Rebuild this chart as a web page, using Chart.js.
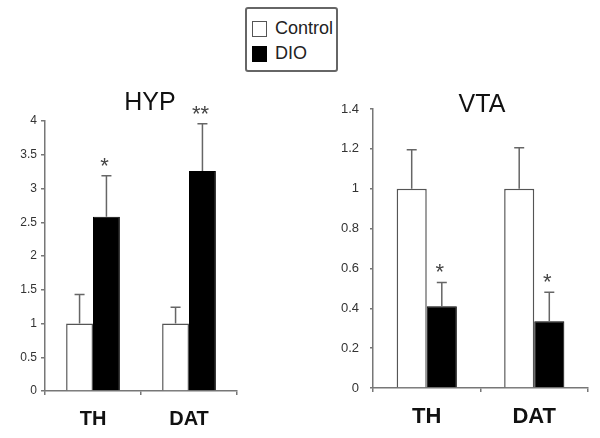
<!DOCTYPE html>
<html>
<head>
<meta charset="utf-8">
<script src="https://cdn.jsdelivr.net/npm/chart.js@4.4.0/dist/chart.umd.min.js"></script>
<style>
  body { margin: 0; background: #fff; width: 600px; height: 438px; position: relative; overflow: hidden;
         font-family: "Liberation Sans", Arial, sans-serif; }
  canvas { position: absolute; top: 0; }
  #hyp { left: 0; }
  #vta { left: 300px; }
  #legend { position: absolute; left: 245px; top: 7px; width: 89px; height: 61px;
            border: 2px solid #666; border-radius: 3px; background: #fff; }
  #legend .item { position: absolute; left: 5px; height: 16px; line-height: 16px; font-size: 18px; color: #222; }
  #legend .box { position: absolute; left: 0; top: 0; width: 13px; height: 14px; border: 1px solid #555; }
  #legend .txt { position: absolute; left: 23px; top: -1px; white-space: nowrap; }
</style>
</head>
<body>
<div id="legend">
  <div class="item" style="top:12px"><span class="box" style="background:#fff"></span><span class="txt">Control</span></div>
  <div class="item" style="top:37px"><span class="box" style="background:#000;border-color:#000"></span><span class="txt">DIO</span></div>
</div>
<canvas id="hyp" width="300" height="438"></canvas>
<canvas id="vta" width="300" height="438"></canvas>
<script>
// data
var groups = ['TH', 'DAT'];
var seriesNames = ['Control', 'DIO'];

var hypControl = [1, 1];
var hypControlErr = [0.43, 0.24];
var hypDio = [2.58, 3.26];
var hypDioErr = [0.61, 0.70];
var hypStars = ['*', '**'];
var hypTicks = [0, 0.5, 1, 1.5, 2, 2.5, 3, 3.5, 4];
var hypTickLabels = ['0', '0.5', '1', '1.5', '2', '2.5', '3', '3.5', '4'];

var vtaControl = [1, 1];
var vtaControlErr = [0.195, 0.205];
var vtaDio = [0.41, 0.335];
var vtaDioErr = [0.12, 0.145];
var vtaStars = ['*', '*'];
var vtaTicks = [0, 0.2, 0.4, 0.6, 0.8, 1, 1.2, 1.4];
var vtaTickLabels = ['0', '0.2', '0.4', '0.6', '0.8', '1', '1.2', '1.4'];

var fontFamily = '"Liberation Sans", Arial, sans-serif';
var axisColor = '#777';

// error bars (upper only) and significance stars
var errorBars = {
  id: 'errorBars',
  afterDatasetsDraw: function(chart) {
    var ctx = chart.ctx, yScale = chart.scales.y;
    ctx.save();
    chart.data.datasets.forEach(function(ds, i) {
      var meta = chart.getDatasetMeta(i);
      meta.data.forEach(function(bar, j) {
        var top = yScale.getPixelForValue(ds.data[j] + ds.errors[j]);
        ctx.strokeStyle = '#666';
        ctx.lineWidth = 1.5;
        ctx.beginPath();
        ctx.moveTo(bar.x, bar.y);
        ctx.lineTo(bar.x, top);
        ctx.moveTo(bar.x - 5, top);
        ctx.lineTo(bar.x + 5, top);
        ctx.stroke();
        if (ds.stars && ds.stars[j]) {
          ctx.fillStyle = '#444';
          ctx.font = '22px ' + fontFamily;
          ctx.textAlign = 'center';
          ctx.textBaseline = 'alphabetic';
          ctx.fillText(ds.stars[j], bar.x - 2, top - 3);
        }
      });
    });
    ctx.restore();
  }
};

var panelTitle = {
  id: 'panelTitle',
  afterDraw: function(chart, args, opts) {
    var ctx = chart.ctx;
    ctx.save();
    ctx.fillStyle = '#111';
    ctx.font = opts.size + 'px ' + fontFamily;
    ctx.textAlign = 'center';
    ctx.textBaseline = 'middle';
    ctx.fillText(opts.text, opts.x, opts.y);
    ctx.restore();
  }
};

function makePanel(id, title, control, controlErr, dio, dioErr, stars, ticks, tickLabels, cfg) {
  var config = {
    type: 'bar',
    data: {
      labels: groups,
      datasets: [{
        label: seriesNames[0],
        data: control,
        errors: controlErr,
        backgroundColor: '#fff',
        borderColor: '#555',
        borderWidth: 1.5
      }, {
        label: seriesNames[1],
        data: dio,
        errors: dioErr,
        stars: stars,
        backgroundColor: '#000',
        borderColor: '#000',
        borderWidth: 1
      }]
    },
    options: {
      responsive: false,
      animation: false,
      layout: { padding: cfg.padding },
      datasets: { bar: { barPercentage: 1, categoryPercentage: 0.56 } },
      plugins: {
        legend: { display: false },
        tooltip: { enabled: false },
        panelTitle: { text: title, x: cfg.titleX, y: cfg.titleY, size: 25 }
      },
      scales: {
        x: {
          grid: { offset: true, drawOnChartArea: false, tickLength: 4, color: axisColor, lineWidth: 1.5 },
          border: { color: axisColor, width: 1.5 },
          ticks: { color: '#111', padding: cfg.xPad, font: { family: fontFamily, size: cfg.xFont, weight: 'bold' } },
          afterFit: function(s) { s.height = cfg.xHeight; }
        },
        y: {
          min: ticks[0],
          max: ticks[ticks.length - 1],
          afterBuildTicks: function(s) { s.ticks = ticks.map(function(v) { return { value: v }; }); },
          grid: { drawOnChartArea: false, tickLength: cfg.yTick, color: axisColor, lineWidth: 1.5 },
          border: { color: axisColor, width: 1.5 },
          ticks: {
            color: '#333', padding: cfg.yPad,
            font: { family: fontFamily, size: cfg.yFont },
            callback: function(v, i) { return tickLabels[i]; }
          },
          afterFit: function(s) { s.width = cfg.yWidth; }
        }
      }
    },
    plugins: [errorBars, panelTitle]
  };
  return new Chart(document.getElementById(id), config);
}

makePanel('hyp', 'HYP', hypControl, hypControlErr, hypDio, hypDioErr, hypStars, hypTicks, hypTickLabels, {
  padding: { top: 121, right: 63, left: 0, bottom: 0 },
  titleX: 150, titleY: 103,
  xPad: 12, xFont: 20, xHeight: 47,
  yTick: 4, yPad: 4, yFont: 12, yWidth: 45
});

makePanel('vta', 'VTA', vtaControl, vtaControlErr, vtaDio, vtaDioErr, vtaStars, vtaTicks, vtaTickLabels, {
  padding: { top: 109, right: 12, left: 0, bottom: 0 },
  titleX: 182, titleY: 105,
  xPad: 12, xFont: 22, xHeight: 50,
  yTick: 3, yPad: 11, yFont: 13, yWidth: 73
});
</script>
</body>
</html>
